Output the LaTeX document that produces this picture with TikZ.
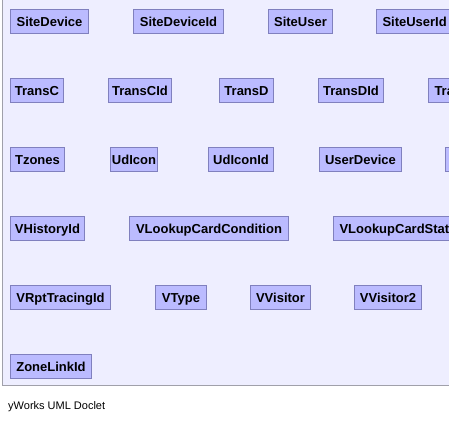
\documentclass[tikz,border=0pt]{standalone}
\usepackage{fontspec}
\setmainfont{Liberation Sans}
\definecolor{panelbg}{RGB}{238,238,255}
\definecolor{panelline}{RGB}{160,160,170}
\definecolor{classfill}{RGB}{187,187,255}
\definecolor{classline}{RGB}{128,128,190}

\begin{document}
\begin{tikzpicture}[x=1pt, y=-1pt,
	classbox/.style={draw=classline, fill=classfill, line width=1pt, anchor=north west,
		minimum height=24pt, inner sep=0pt, text height=9.4pt, text depth=0pt,
		font=\fontsize{13}{15}\selectfont\bfseries},
	cutbox/.style={classbox, inner xsep=6pt, text width=#1, align=left}]
	\useasboundingbox (0,0) rectangle (449,423);
	\fill[white] (0,0) rectangle (449,423);
	\clip (0,0) rectangle (449,423);
	\fill[panelbg] (2.5,-5) rectangle (460,385);
	\draw[panelline, line width=1pt] (2.5,-5) -- (2.5,385) -- (460,385);
	% row 1
	\node (sitedevice) [classbox, minimum width=78pt] at (10,9) {SiteDevice};
	\node (sitedeviceid) [classbox, minimum width=90pt] at (133,9) {SiteDeviceId};
	\node (siteuser) [classbox, minimum width=64pt] at (268,9) {SiteUser};
	\node (siteuserid) [cutbox=80pt] at (376,9) {SiteUserId};
	% row 2
	\node (transc) [classbox, minimum width=53pt] at (10,78) {TransC};
	\node (transcid) [classbox, minimum width=63pt] at (108,78) {TransCId};
	\node (transd) [classbox, minimum width=54pt] at (219,78) {TransD};
	\node (transdid) [classbox, minimum width=65pt] at (318,78) {TransDId};
	\node (tra) [cutbox=60pt] at (428,78) {Tra};
	% row 3
	\node (tzones) [classbox, minimum width=54pt] at (10,147) {Tzones};
	\node (udicon) [classbox, minimum width=47pt] at (110,147) {UdIcon};
	\node (udiconid) [classbox, minimum width=65pt] at (208,147) {UdIconId};
	\node (userdevice) [classbox, minimum width=82pt] at (319,147) {UserDevice};
	\node (hidden) [classbox, minimum width=40pt] at (445,147) {};
	% row 4
	\node (vhistoryid) [classbox, minimum width=74pt] at (10,216) {VHistoryId};
	\node (vlookupcond) [classbox, minimum width=159pt] at (129,216) {VLookupCardCondition};
	\node (vlookupstat) [cutbox=140pt] at (333,216) {VLookupCardStat};
	% row 5
	\node (vrpttracingid) [classbox, minimum width=100pt] at (10,285) {VRptTracingId};
	\node (vtype) [classbox, minimum width=51pt] at (155,285) {VType};
	\node (vvisitor) [classbox, minimum width=60pt] at (250,285) {VVisitor};
	\node (vvisitor2) [classbox, minimum width=67pt] at (354,285) {VVisitor2};
	% row 6
	\node (zonelinkid) [classbox, minimum width=81pt] at (10,354) {ZoneLinkId};
	% footer
	\node (doclet) [anchor=base west, inner sep=0pt, font=\fontsize{11}{13}\selectfont] at (8,409) {yWorks UML Doclet};
\end{tikzpicture}
\end{document}
